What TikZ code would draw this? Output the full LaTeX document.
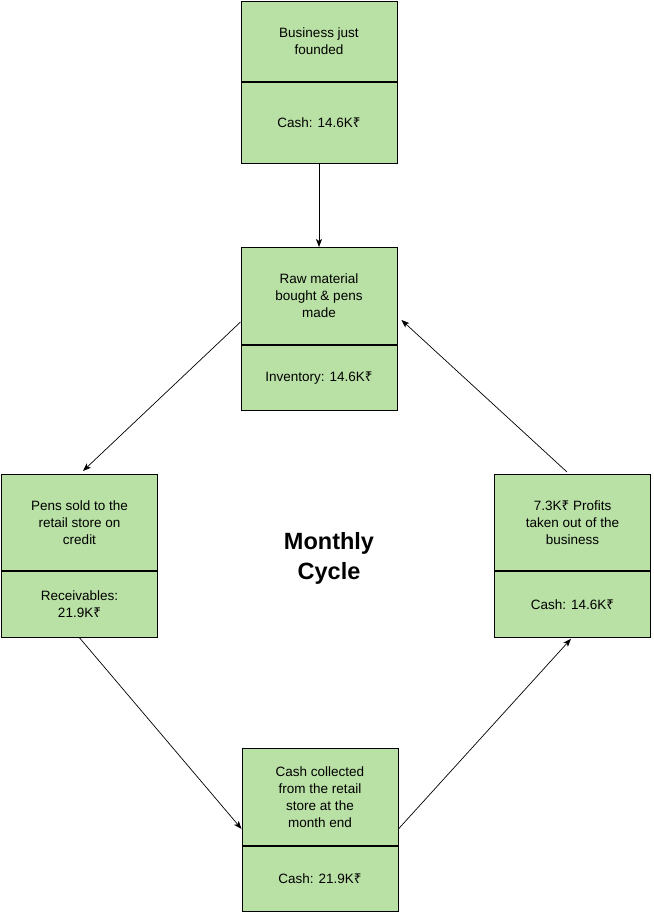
\documentclass[tikz,border=0pt]{standalone}
\usepackage{fontspec}
\setmainfont{Liberation Sans}
\newfontfamily\rsfont{Noto Sans}
\newcommand{\rupee}{{\rsfont ₹}}
\usetikzlibrary{arrows.meta,calc}
\definecolor{boxgreen}{HTML}{B9E0A5}
\tikzset{
  sec/.style={draw=black, fill=boxgreen, line width=0.9pt, minimum width=156pt, align=center, inner sep=0pt,
    font=\fontsize{13.5}{17}\selectfont, anchor=north},
  conn/.style={draw=black, line width=0.7pt, -{Stealth[length=8pt,width=6pt,inset=2pt]}}
}
\begin{document}
\begin{tikzpicture}[x=1pt,y=-1pt]
\useasboundingbox (0,0) rectangle (653,912);
% top box
\node[sec, minimum height=80pt] (a1) at (319,1) {Business just\\founded};
\node[sec, minimum height=81pt] (a2) at (a1.south) {Cash: 14.6K\rupee};
% second box
\node[sec, minimum height=97pt] (r1) at (319,247) {Raw material\\bought \& pens\\made};
\node[sec, minimum height=65pt] (r2) at (r1.south) {Inventory: 14.6K\rupee};
% left box
\node[sec, minimum height=96pt] (l1) at (79.5,474) {Pens sold to the\\retail store on\\credit};
\node[sec, minimum height=66pt] (l2) at (l1.south) {Receivables:\\21.9K\rupee};
% right box
\node[sec, minimum height=96pt] (q1) at (572.5,474) {7.3K\rupee{} Profits\\taken out of the\\business};
\node[sec, minimum height=66pt] (q2) at (q1.south) {Cash: 14.6K\rupee};
% bottom box
\node[sec, minimum height=97pt] (c1) at (320,748) {Cash collected\\from the retail\\store at the\\month end};
\node[sec, minimum height=65pt] (c2) at (c1.south) {Cash: 21.9K\rupee};
% center label
\node[font=\fontsize{23.5}{30}\selectfont\bfseries, align=center] (mc) at (329,558) {Monthly\\Cycle};
% connectors
\draw[conn] (a2.south) -- (r1.north);
\draw[conn] ([yshift=-26pt]r1.west) -- ([xshift=3.5pt,yshift=3pt]l1.north);
\draw[conn] (l2.south) -- ([yshift=-32pt]c1.west);
\draw[conn] ([yshift=-32pt]c1.east) -- ([xshift=-1.5pt,yshift=-1pt]q2.south);
\draw[conn] ([xshift=-5.5pt,yshift=2pt]q1.north) -- ([xshift=4pt,yshift=-24pt]r1.east);
\end{tikzpicture}
\end{document}
